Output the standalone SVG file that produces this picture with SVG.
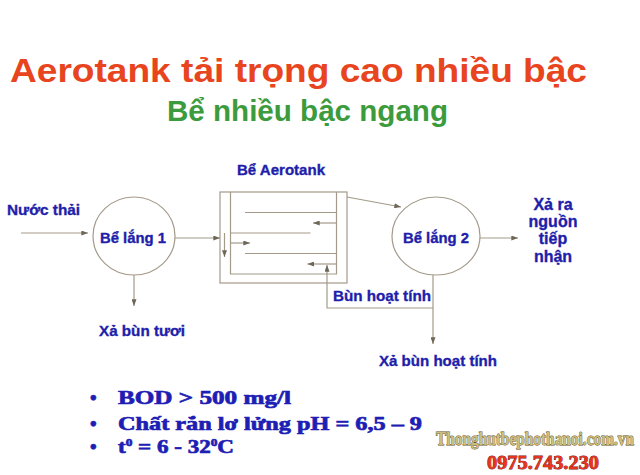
<svg xmlns="http://www.w3.org/2000/svg" width="640" height="475" viewBox="0 0 640 475">
<defs>
<style>
.ln{stroke:#A39A8A;stroke-width:1.2;fill:none}
.lbl{font-family:"Liberation Sans",Arial,sans-serif;font-weight:bold;font-size:15px;fill:#1E1EAA;stroke:#1E1EAA;stroke-width:0.35}
.out{font-size:16px}
.blt{font-family:"Liberation Serif","Times New Roman",serif;font-weight:bold;font-size:19px;fill:#1E1EB4;stroke:#1E1EB4;stroke-width:0.7}
.wm{font-family:"Liberation Serif","Times New Roman",serif;font-weight:bold;font-size:15.2px;fill:#CDBE7E;stroke:#5E4E22;stroke-width:0.7;paint-order:stroke}
.ph{font-family:"Liberation Serif","Times New Roman",serif;font-weight:bold;font-size:19px;fill:#E8341E;stroke:#7A1008;stroke-width:0.8;paint-order:stroke}
</style>
<marker id="ah" viewBox="0 0 8 6" refX="8" refY="3" markerWidth="7" markerHeight="5" markerUnits="userSpaceOnUse" orient="auto">
<path d="M0,0 L8,3 L0,6 Z" fill="#6E6658"/>
</marker>
</defs>
<rect width="640" height="475" fill="#FFFFFF"/>

<g id="title">
<text x="10" y="82" font-family="Liberation Sans, Arial, sans-serif" font-weight="bold" font-size="33" fill="#E8441E" textLength="577" lengthAdjust="spacingAndGlyphs">Aerotank tải trọng cao nhiều bậc</text>
<text x="167" y="121" font-family="Liberation Sans, Arial, sans-serif" font-weight="bold" font-size="30" fill="#3C9B3C" textLength="281" lengthAdjust="spacingAndGlyphs">Bể nhiều bậc ngang</text>
</g>

<g id="input-label">
<text class="lbl" x="7" y="215" textLength="73" lengthAdjust="spacingAndGlyphs">Nước thải</text>
</g>

<g id="be-lang-1">
<ellipse cx="134" cy="236" rx="41" ry="39" fill="none" stroke="#A39A8A" stroke-width="1.2"/>
<text class="lbl" x="100" y="243" textLength="66" lengthAdjust="spacingAndGlyphs">Bể lắng 1</text>
</g>

<g id="xa-bun-tuoi">
<text class="lbl" x="99" y="336" textLength="86" lengthAdjust="spacingAndGlyphs">Xả bùn tươi</text>
</g>

<g id="be-aerotank">
<text class="lbl" x="237" y="175" textLength="88" lengthAdjust="spacingAndGlyphs">Bể Aerotank</text>
<rect class="ln" x="220" y="192" width="127" height="91"/>
<path class="ln" d="M230.5,192 V274 H336.5 V192"/>
<path class="ln" d="M245,212.5 H336.5 M230.5,233 H310.5 M245,253.5 H336.5"/>
<path class="ln" d="M336.5,223 H313" marker-end="url(#ah)"/>
<path class="ln" d="M230.5,243 H250" marker-end="url(#ah)"/>
<path class="ln" d="M336.5,264 H307.5" marker-end="url(#ah)"/>
<path class="ln" d="M224.5,233 V257" marker-end="url(#ah)"/>
</g>

<g id="be-lang-2">
<ellipse cx="436" cy="236" rx="44" ry="39" fill="none" stroke="#A39A8A" stroke-width="1.2"/>
<text class="lbl" x="403" y="243" textLength="66" lengthAdjust="spacingAndGlyphs">Bể lắng 2</text>
</g>

<g id="output-label">
<text class="lbl out" x="553" y="210" text-anchor="middle">Xả ra</text>
<text class="lbl out" x="553" y="227" text-anchor="middle">nguồn</text>
<text class="lbl out" x="553" y="244" text-anchor="middle">tiếp</text>
<text class="lbl out" x="553" y="262" text-anchor="middle">nhận</text>
</g>

<g id="bun-hoat-tinh">
<text class="lbl" x="333" y="301" textLength="98" lengthAdjust="spacingAndGlyphs">Bùn hoạt tính</text>
</g>

<g id="xa-bun-hoat-tinh">
<text class="lbl" x="379" y="366" textLength="118" lengthAdjust="spacingAndGlyphs">Xả bùn hoạt tính</text>
</g>

<g id="connectors">
<path class="ln" d="M21,233 H88" marker-end="url(#ah)"/>
<path class="ln" d="M175,238 H220" marker-end="url(#ah)"/>
<path class="ln" d="M134,275 V306" marker-end="url(#ah)"/>
<path class="ln" d="M347,197 L401,207" marker-end="url(#ah)"/>
<path class="ln" d="M480,238 H518" marker-end="url(#ah)"/>
<path class="ln" d="M433,275 V344" marker-end="url(#ah)"/>
<path class="ln" d="M433,308 H327 V265" marker-end="url(#ah)"/>
</g>

<g id="notes">
<text class="blt" x="90" y="404">•</text>
<text class="blt" x="90" y="430">•</text>
<text class="blt" x="90" y="453">•</text>
<text class="blt" x="118" y="404" textLength="173" lengthAdjust="spacingAndGlyphs">BOD &gt; 500 mg/l</text>
<text class="blt" x="118" y="430" textLength="304" lengthAdjust="spacingAndGlyphs">Chất rắn lơ lửng pH = 6,5 – 9</text>
<text class="blt" x="118" y="453" textLength="116" lengthAdjust="spacingAndGlyphs">t<tspan font-size="11" dy="-7">0</tspan><tspan dy="7"> = 6 - 32</tspan><tspan font-size="11" dy="-7">0</tspan><tspan dy="7">C</tspan></text>
</g>

<g id="watermark">
<text class="wm" x="436" y="356" transform="scale(1,1.25)" textLength="198" lengthAdjust="spacingAndGlyphs">Thonghutbephothanoi.com.vn</text>
<text class="ph" x="487" y="469" textLength="112" lengthAdjust="spacingAndGlyphs">0975.743.230</text>
</g>
</svg>
